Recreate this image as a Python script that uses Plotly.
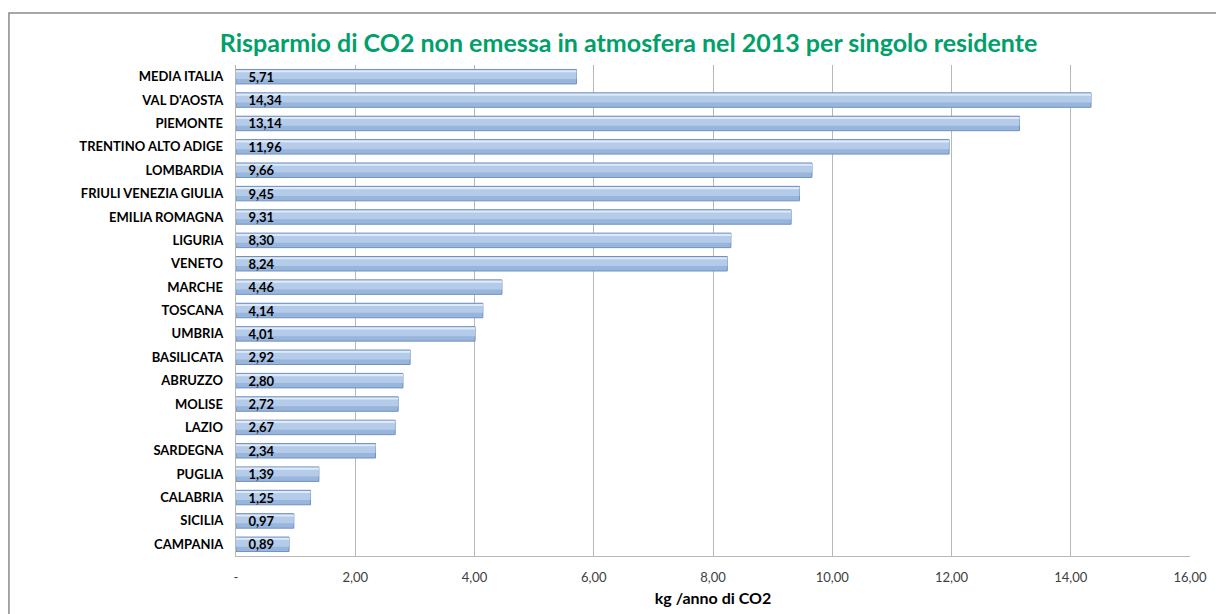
import plotly.graph_objects as go

regions = ["MEDIA ITALIA", "VAL D'AOSTA", "PIEMONTE", "TRENTINO ALTO ADIGE", "LOMBARDIA",
           "FRIULI VENEZIA GIULIA", "EMILIA ROMAGNA", "LIGURIA", "VENETO", "MARCHE",
           "TOSCANA", "UMBRIA", "BASILICATA", "ABRUZZO", "MOLISE", "LAZIO", "SARDEGNA",
           "PUGLIA", "CALABRIA", "SICILIA", "CAMPANIA"]
values = [5.71, 14.34, 13.14, 11.96, 9.66, 9.45, 9.31, 8.30, 8.24, 4.46, 4.14, 4.01,
          2.92, 2.80, 2.72, 2.67, 2.34, 1.39, 1.25, 0.97, 0.89]
tick_vals = [0, 2, 4, 6, 8, 10, 12, 14, 16]
tick_text = ["-", "2,00", "4,00", "6,00", "8,00", "10,00", "12,00", "14,00", "16,00"]
labels = [f"{v:.2f}".replace(".", ",") for v in values]

FONT = "Lato"
fig = go.Figure()
# base bar
fig.add_trace(go.Bar(y=regions, x=values, orientation="h", width=0.62, offset=-0.31,
                     marker=dict(color="#98b5dc", line=dict(color="#7091c0", width=1)),
                     hoverinfo="skip"))
# mid band
fig.add_trace(go.Bar(y=regions, x=values, orientation="h", width=0.32, offset=-0.22,
                     marker=dict(color="#b4cbea", line=dict(width=0)), hoverinfo="skip"))
# top highlight
fig.add_trace(go.Bar(y=regions, x=values, orientation="h", width=0.09, offset=-0.28,
                     marker=dict(color="#dfeaf8", line=dict(width=0)), hoverinfo="skip"))
# text layer
fig.add_trace(go.Bar(y=regions, x=values, orientation="h", width=0.62, offset=-0.31,
                     marker=dict(color="rgba(0,0,0,0)", line=dict(width=0)),
                     text=labels, texttemplate="   %{text}", textposition="inside",
                     insidetextanchor="start", constraintext="none",
                     textfont=dict(family=FONT, size=13, color="#000000", weight="bold"),
                     cliponaxis=False))

fig.update_layout(
    width=1224, height=614,
    barmode="overlay", showlegend=False,
    paper_bgcolor="white", plot_bgcolor="white",
    margin=dict(l=228, r=42, t=57, b=66),
    title=dict(text="<b>Risparmio di CO2 non emessa in atmosfera nel 2013 per singolo residente</b>",
               x=0.507, xanchor="center", y=0.942, yanchor="middle",
               font=dict(family=FONT, size=25, color="#00a06a")),
    xaxis=dict(range=[0, 16], tickvals=tick_vals, ticktext=tick_text,
               showgrid=True, gridcolor="#b8b8b8", gridwidth=1, zeroline=False,
               showline=True, linecolor="#b8b8b8", ticks="", ticklabelstandoff=9,
               tickfont=dict(family=FONT, size=13, color="#404040"),
               title=dict(text="<b>kg /anno di CO2</b>", standoff=9,
                          font=dict(family=FONT, size=16, color="#000000"))),
    yaxis=dict(categoryorder="array", categoryarray=regions, autorange="reversed",
               showline=True, linecolor="#b8b8b8", ticks="", ticksuffix="   ",
               tickfont=dict(family=FONT, size=13, color="#000000", weight="bold")),
    shapes=[dict(type="rect", xref="paper", yref="paper", x0=-0.238, x1=1.06, y0=-0.3, y1=1.106,
                 line=dict(color="#8a8a8a", width=1.5), fillcolor="rgba(0,0,0,0)", layer="below")],
)
fig.write_html("out.html")
